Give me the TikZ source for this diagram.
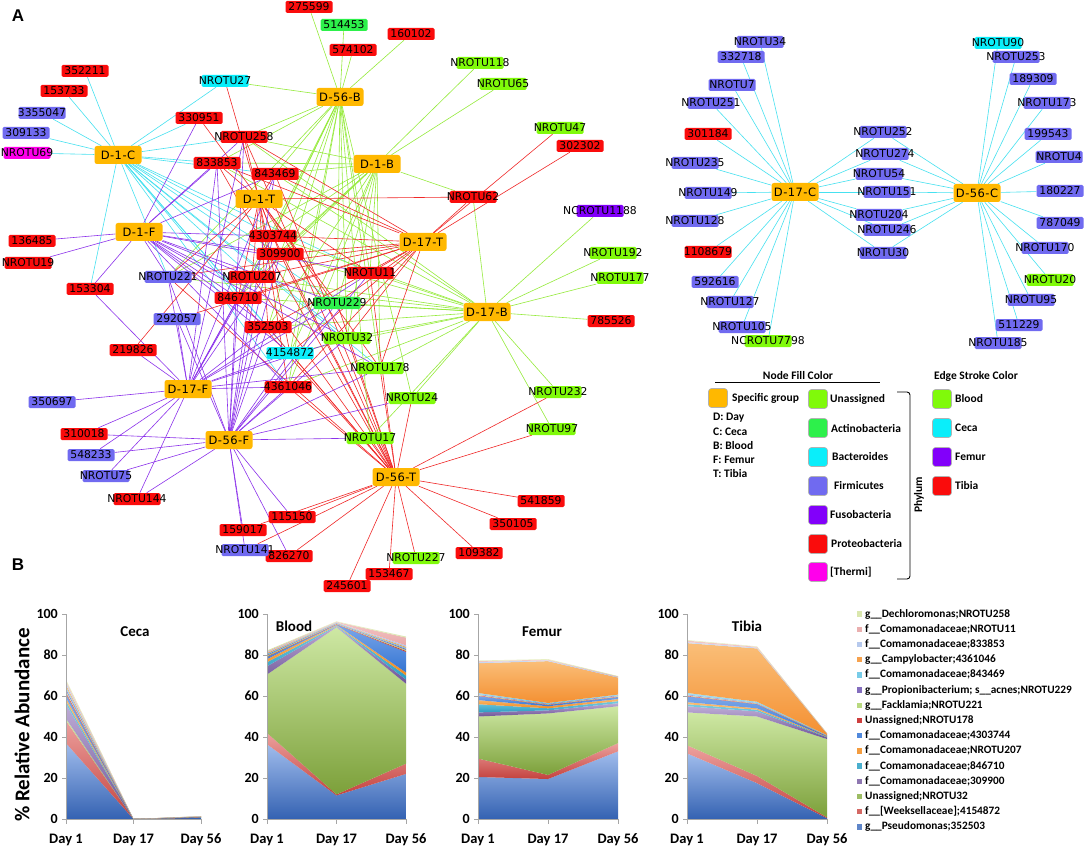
\documentclass[tikz,border=0pt]{standalone}
\usepackage{fontspec}
\setmainfont{Liberation Sans}
\newfontfamily\dvfont{DejaVu Sans}
\newfontfamily\dvhub{DejaVu Sans}[LetterSpace=4]
\newfontfamily\calfont{Carlito}
\pgfdeclarelayer{edges}
\pgfsetlayers{edges,main}
% node fills
\definecolor{hubc}{RGB}{255,184,0}
\definecolor{pr}{RGB}{250,12,12}
\definecolor{fi}{RGB}{112,106,240}
\definecolor{un}{RGB}{128,250,10}
\definecolor{ac}{RGB}{45,240,75}
\definecolor{ba}{RGB}{10,238,250}
\definecolor{th}{RGB}{255,0,235}
\definecolor{fu}{RGB}{130,0,250}
% edge strokes
\definecolor{cecaE}{RGB}{70,225,240}
\definecolor{bloodE}{RGB}{150,235,60}
\definecolor{femurE}{RGB}{140,50,235}
\definecolor{tibiaE}{RGB}{240,40,40}
% series colours (top / bottom of gradient)
\definecolor{sT1}{RGB}{160,188,236}\definecolor{sB1}{RGB}{52,98,178}
\definecolor{sT2}{RGB}{236,160,158}\definecolor{sB2}{RGB}{196,66,62}
\definecolor{sT3}{RGB}{206,232,164}\definecolor{sB3}{RGB}{124,160,58}
\definecolor{sT4}{RGB}{190,172,214}\definecolor{sB4}{RGB}{110,84,152}
\definecolor{sT5}{RGB}{120,204,224}\definecolor{sB5}{RGB}{44,156,194}
\definecolor{sT6}{RGB}{250,186,112}\definecolor{sB6}{RGB}{240,138,32}
\definecolor{sT7}{RGB}{124,168,234}\definecolor{sB7}{RGB}{52,116,210}
\definecolor{sT8}{RGB}{226,98,96}\definecolor{sB8}{RGB}{192,40,40}
\definecolor{sT9}{RGB}{216,236,176}\definecolor{sB9}{RGB}{164,204,96}
\definecolor{sT10}{RGB}{162,146,210}\definecolor{sB10}{RGB}{112,86,176}
\definecolor{sT11}{RGB}{162,222,242}\definecolor{sB11}{RGB}{92,192,226}
\definecolor{sT12}{RGB}{250,190,120}\definecolor{sB12}{RGB}{244,144,50}
\definecolor{sT13}{RGB}{202,218,244}\definecolor{sB13}{RGB}{168,190,232}
\definecolor{sT14}{RGB}{244,198,198}\definecolor{sB14}{RGB}{228,160,160}
\definecolor{sT15}{RGB}{232,240,196}\definecolor{sB15}{RGB}{208,224,160}
\tikzset{
 leafbox/.style={rectangle, rounded corners=1.5pt, inner sep=0pt, minimum height=12pt, font=\dvfont\fontsize{10.8}{12}\selectfont, text=black},
 hubbox/.style={rectangle, rounded corners=2.5pt, fill=hubc, inner sep=0pt, minimum width=47pt, minimum height=18pt, font=\dvhub\fontsize{11.5}{13}\selectfont},
 edge/.style={line width=0.6pt},
 lgsq/.style={rectangle, rounded corners=3pt, minimum size=19pt, inner sep=0pt, draw=black!30, line width=0.6pt},
 lgtxt/.style={font=\calfont\bfseries\fontsize{11.5}{13}\selectfont, inner sep=0pt},
 axisline/.style={draw=black!35, line width=0.9pt},
 ticklab/.style={font=\calfont\bfseries\fontsize{14}{16}\selectfont, inner sep=0pt},
 daylab/.style={font=\calfont\bfseries\fontsize{14.5}{16}\selectfont, inner sep=0pt},
 charttitle/.style={font=\calfont\bfseries\fontsize{15}{17}\selectfont, inner sep=0pt},
 blegend/.style={font=\calfont\bfseries\fontsize{11.3}{13}\selectfont, inner sep=0pt, anchor=west},
 panellab/.style={font=\bfseries\fontsize{17}{19}\selectfont, inner sep=0pt},
}
\newcommand\areachart[4]{%
 \foreach \i/\a/\b/\c [remember=\a as \pa (initially 0), remember=\b as \pb (initially 0), remember=\c as \pc (initially 0)] in {#4}{
  \path[top color=sT\i, bottom color=sB\i] (#1,{819-2.05*\pa}) -- ({#1+#2},{819-2.05*\pb}) -- ({#1+2*#2},{819-2.05*\pc}) -- ({#1+2*#2},{819-2.05*\c}) -- ({#1+#2},{819-2.05*\b}) -- (#1,{819-2.05*\a}) -- cycle;
 }
 \draw[axisline] (#1,614) -- (#1,819) -- ({#1+2*#2},819);
 \foreach \v in {0,20,40,60,80,100}{
  \draw[axisline] ({#1-4},{819-2.05*\v}) -- (#1,{819-2.05*\v});
  \node[ticklab, anchor=east] (#3y\v) at ({#1-8},{819-2.05*\v}) {\v};
 }
 \foreach \k in {0,1,2}{\draw[axisline] ({#1+\k*#2},819) -- ({#1+\k*#2},824);}
 \node[daylab] (#3d1) at (#1,840) {Day 1};
 \node[daylab] (#3d2) at ({#1+#2},840) {Day 17};
 \node[daylab] (#3d3) at ({#1+2*#2},840) {Day 56};
}
\def\corelist{NROTU258,NROTU11,n833853,n4361046,n843469,NROTU229,NROTU221,NROTU178,n4303744,NROTU207,n846710,n309900,NROTU32,n4154872,n352503}
\def\midlist{NROTU252,NROTU274,NROTU54,NROTU151,NROTU204,NROTU246,NROTU30}
\begin{document}
\begin{tikzpicture}[x=1pt,y=-1pt]
\begin{pgfonlayer}{edges}
\fill[white] (0,0) rectangle (1084,850);
\end{pgfonlayer}
\useasboundingbox (0,0) rectangle (1084,850);

\node[panellab] (labA) at (18,16) {A};
\node[panellab] (labB) at (18,565) {B};

% ---------- leaves, left network ----------
\foreach \nm/\x/\y/\c/\t in {
 n275599/309/7/pr/275599, n514453/344/25/ac/514453, n574102/353/50/pr/574102, n160102/411/34/pr/160102,
 NROTU118/480/63/un/NROTU118, NROTU65/503/84/un/NROTU65, NROTU47/560/128/un/NROTU47, n302302/580/146/pr/302302,
 NROTU62/473/197/pr/NROTU62, NCROTU1188/600/211/fu/NCROTU1188, NROTU192/613/253/un/NROTU192, NROTU177/620/278/un/NROTU177,
 NROTU11/370/273/pr/NROTU11, n785526/611/321/pr/785526, NROTU232/558/392/un/NROTU232, NROTU97/552/429/un/NROTU97,
 n541859/541/501/pr/541859, n350105/513/524/pr/350105, n109382/479/553/pr/109382, NROTU227/416/558/un/NROTU227,
 n153467/389/574/pr/153467, n245601/347/586/pr/245601, n826270/289/556/pr/826270, NROTU141/245/550/fi/NROTU141,
 n159017/243/530/pr/159017, n115150/292/517/pr/115150, NROTU144/137/499/pr/NROTU144, NROTU75/106/476/fi/NROTU75,
 n548233/91/455/fi/548233, n310018/84/434/pr/310018, n350697/52/402/fi/350697, n219826/133/350/pr/219826,
 n292057/177/319/fi/292057, n153304/90/289/pr/153304, n4361046/288/387/pr/4361046, n4154872/290/353/ba/4154872,
 n352503/268/327/pr/352503, n846710/238/298/pr/846710, NROTU221/168/277/fi/NROTU221, NROTU207/252/277/pr/NROTU207,
 n309900/280/254/pr/309900, n4303744/273/236/pr/4303744, n843469/275/174/pr/843469, n833853/217/163/pr/833853,
 NROTU258/244/137/pr/NROTU258, n330951/199/118/pr/330951, NROTU27/225/81/ba/NROTU27, n352211/85/71/pr/352211,
 n153733/64/91/pr/153733, n3355047/42/113/fi/3355047, n309133/26/133/fi/309133, NROTU69/27/153/th/NROTU69,
 n136485/32/241/pr/136485, NROTU19/28/263/pr/NROTU19, NROTU229/337/303/ac/NROTU229, NROTU32/347/338/un/NROTU32,
 NROTU178/380/368/un/NROTU178, NROTU24/412/398/un/NROTU24, NROTU17/370/438/un/NROTU17}{
 \node[leafbox, fill=\c] (\nm) at (\x,\y) {\hbox to 47pt{\hss\t\hss}};
}
% ---------- leaves, right network ----------
\foreach \nm/\x/\y/\c/\t in {
 NROTU34/760/42/fi/NROTU34, n332718/741/57/fi/332718, NROTU7/732/85/fi/NROTU7, NROTU251/711/103/fi/NROTU251,
 n301184/708/134/pr/301184, NROTU235/695/163/fi/NROTU235, NROTU149/708/193/fi/NROTU149, NROTU128/695/221/fi/NROTU128,
 n1108679/708/252/pr/1108679, n592616/715/282/fi/592616, NROTU127/730/302/fi/NROTU127, NROTU105/742/327/fi/NROTU105,
 NCROTU7798/768/341/un/NCROTU7798,
 NROTU252/883/132/fi/NROTU252, NROTU274/885/154/fi/NROTU274, NROTU54/879/174/fi/NROTU54, NROTU151/887/192/fi/NROTU151,
 NROTU204/879/215/fi/NROTU204, NROTU246/887/230/fi/NROTU246, NROTU30/883/253/fi/NROTU30,
 NROTU90/998/43/ba/NROTU90, NROTU253/1016/57/fi/NROTU253, n189309/1033/79/fi/189309, NROTU173/1047/103/fi/NROTU173,
 n199543/1048/134/fi/199543, NROTU4/1059/157/fi/NROTU4, n180227/1060/191/fi/180227, n787049/1060/223/fi/787049,
 NROTU170/1045/248/fi/NROTU170, NROTU20/1050/280/un/NROTU20, NROTU95/1031/300/fi/NROTU95, n511229/1019/325/fi/511229,
 NROTU185/998/343/fi/NROTU185}{
 \node[leafbox, fill=\c] (\nm) at (\x,\y) {\hbox to 47pt{\hss\t\hss}};
}
% ---------- hubs ----------
\foreach \nm/\x/\y/\t in {D1C/118/155/D-1-C, D1F/139/232/D-1-F, D1T/259/199/D-1-T, D56B/340/97/D-56-B,
 D1B/377/164/D-1-B, D17T/423/242/D-17-T, D17B/487/312/D-17-B, D17F/188/389/D-17-F, D56F/229/440/D-56-F,
 D56T/396/477/D-56-T, D17C/795/192/D-17-C, D56C/977/193/D-56-C}{
 \node[hubbox] (\nm) at (\x,\y) {\t};
}

% ---------- edges ----------
\begin{pgfonlayer}{edges}
\foreach \h/\col in {D1C/cecaE, D56B/bloodE, D1B/bloodE, D17B/bloodE, D1T/tibiaE, D17T/tibiaE, D56T/tibiaE, D1F/femurE, D17F/femurE, D56F/femurE}{
 \foreach \o in \corelist {\draw[edge, draw=\col] (\h) -- (\o);}
}
\foreach \o in {n352211,n153733,n3355047,n309133,NROTU69,NROTU27,n330951,n153304}{\draw[edge, draw=cecaE] (D1C) -- (\o);}
\foreach \o in {n275599,n514453,n574102,n160102,NROTU27,NROTU24,NROTU17}{\draw[edge, draw=bloodE] (D56B) -- (\o);}
\foreach \o in {NROTU118,NROTU65,NROTU62}{\draw[edge, draw=bloodE] (D1B) -- (\o);}
\foreach \o in {NROTU62,NCROTU1188,NROTU192,NROTU177,n785526,NROTU232,NROTU97,NROTU24,NROTU17}{\draw[edge, draw=bloodE] (D17B) -- (\o);}
\foreach \o in {NROTU27,n330951,NROTU62,n219826}{\draw[edge, draw=tibiaE] (D1T) -- (\o);}
\foreach \o in {NROTU47,n302302,NROTU62,n292057}{\draw[edge, draw=tibiaE] (D17T) -- (\o);}
\foreach \o in {NROTU232,NROTU97,n541859,n350105,n109382,NROTU227,n153467,n245601,n826270,n115150,n159017,NROTU141,NROTU17,NROTU24}{\draw[edge, draw=tibiaE] (D56T) -- (\o);}
\foreach \o in {n136485,NROTU19,n330951,n153304}{\draw[edge, draw=femurE] (D1F) -- (\o);}
\foreach \o in {n153304,n219826,n292057,n350697,n310018,n548233,NROTU75,NROTU144}{\draw[edge, draw=femurE] (D17F) -- (\o);}
\foreach \o in {n292057,n310018,n548233,NROTU75,NROTU144,n115150,n159017,NROTU141,n826270,NROTU17,NROTU24}{\draw[edge, draw=femurE] (D56F) -- (\o);}
% right network
\foreach \o in {NROTU34,n332718,NROTU7,NROTU251,n301184,NROTU235,NROTU149,NROTU128,n1108679,n592616,NROTU127,NROTU105,NCROTU7798}{\draw[edge, draw=cecaE] (D17C) -- (\o);}
\foreach \o in {NROTU90,NROTU253,n189309,NROTU173,n199543,NROTU4,n180227,n787049,NROTU170,NROTU20,NROTU95,n511229,NROTU185}{\draw[edge, draw=cecaE] (D56C) -- (\o);}
\foreach \o in \midlist {\draw[edge, draw=cecaE] (D17C) -- (\o); \draw[edge, draw=cecaE] (D56C) -- (\o);}
\end{pgfonlayer}

% ---------- legend A ----------
\node[lgtxt] (nfc) at (798,376) {Node Fill Color};
\draw[line width=0.8pt] (715,382) -- (880,382);
\node[lgtxt] (esc) at (976,376) {Edge Stroke Color};
\node[lgsq, fill=hubc] (lsq0) at (718,398) {};
\node[lgtxt, anchor=west] (lt0) at (732,398) {Specific group};
\foreach \nm/\y/\txt in {D/418/{D: Day}, C/432/{C: Ceca}, B/446/{B: Blood}, F/460/{F: Femur}, T/474/{T: Tibia}}{
 \node[lgtxt, anchor=west] (lk\nm) at (713,\y) {\txt};
}
\foreach \k/\y/\c/\dx/\txt in {1/399/un/0/Unassigned, 2/428/ac/1/Actinobacteria, 3/457/ba/2/Bacteroides, 4/486/fi/4/Firmicutes, 5/515/fu/0/Fusobacteria, 6/544/pr/1/Proteobacteria, 7/572/th/0/{[Thermi]}}{
 \node[lgsq, fill=\c] (ps\k) at (818,\y) {};
 \node[lgtxt, anchor=west] (pt\k) at ({830+\dx},\y) {\txt};
}
\draw[line width=0.9pt, rounded corners=3pt] (897,392) -- (910,392) -- (910,579) -- (897,579);
\node[lgtxt, rotate=90] (phy) at (919,495) {Phylum};
\foreach \k/\y/\c/\txt in {1/399/un/Blood, 2/428/ba/Ceca, 3/457/fu/Femur, 4/486/pr/Tibia}{
 \node[lgsq, fill=\c] (es\k) at (942,\y) {};
 \node[lgtxt, anchor=west] (et\k) at (955,\y) {\txt};
}

% ---------- panel B ----------
\node[font=\calfont\bfseries\fontsize{21}{24}\selectfont, rotate=90, inner sep=0pt] (yl) at (22,725) {\% Relative Abundance};
\areachart{66}{67.5}{C}{1/37/0/0.6, 2/48/0/0.7, 3/49/0/0.75, 4/56/0/0.85, 5/57.5/0/0.9, 6/59/0/0.95, 7/61/0/1.0, 8/61.8/0/1.05, 9/62.5/0/1.1, 10/63.5/0/1.15, 11/64.5/0/1.2, 12/65.5/0/1.25, 13/66.5/0/1.3, 14/67.3/0/1.35, 15/68/0/1.4}
\areachart{267}{69.5}{Bl}{1/36.5/11.5/22, 2/42/12/27, 3/70.5/93.5/66, 4/74.5/94/68, 5/76.5/94.3/70, 6/78/94.6/71.5, 7/79/94.9/81.5, 8/79.3/95.1/82, 9/79.8/95.3/82.5, 10/80.2/95.5/83, 11/80.6/95.7/83.5, 12/81/95.8/84, 13/81.4/96/84.7, 14/81.8/96.2/88.5, 15/82.2/96.4/89}
\areachart{478}{70}{F}{1/20.5/19.5/33, 2/29.5/21.5/37, 3/50/51.5/55, 4/52/53/56.5, 5/56/54/57.5, 6/58/55/58.5, 7/60/55.6/59.5, 8/60.3/55.8/59.7, 9/60.6/56/60, 10/60.9/56.2/60.3, 11/61.5/56.6/60.7, 12/76/77/69, 13/76.6/77.4/69.3, 14/77/77.7/69.5, 15/77.3/78/69.7}
\areachart{687}{70}{T}{1/32/17.5/0.4, 2/36/21/0.8, 3/52/50/39, 4/55/52.5/39.8, 5/56/53.3/40, 6/57/54/40.2, 7/59.8/56/40.4, 8/60.1/56.2/40.5, 9/60.4/56.4/40.6, 10/60.7/56.6/40.7, 11/61.5/57.2/40.9, 12/85.8/83.2/41.6, 13/86.3/83.6/41.7, 14/87/84/41.8, 15/87.3/84.2/41.9}
\node[charttitle] (tC) at (135,632) {Ceca};
\node[charttitle] (tB) at (294,626) {Blood};
\node[charttitle] (tF) at (542,632) {Femur};
\node[charttitle] (tT) at (747,626) {Tibia};

\foreach \i/\t [count=\k from 0] in {15/{g\_\_Dechloromonas;NROTU258}, 14/{f\_\_Comamonadaceae;NROTU11}, 13/{f\_\_Comamonadaceae;833853}, 12/{g\_\_Campylobacter;4361046}, 11/{f\_\_Comamonadaceae;843469}, 10/{g\_\_Propionibacterium; s\_\_acnes;NROTU229}, 9/{g\_\_Facklamia;NROTU221}, 8/{Unassigned;NROTU178}, 7/{f\_\_Comamonadaceae;4303744}, 6/{f\_\_Comamonadaceae;NROTU207}, 5/{f\_\_Comamonadaceae;846710}, 4/{f\_\_Comamonadaceae;309900}, 3/{Unassigned;NROTU32}, 2/{f\_\_[Weeksellaceae];4154872}, 1/{g\_\_Pseudomonas;352503}}{
 \fill[sB\i!60!sT\i] (857,{614+15.2*\k-2.7}) rectangle ++(5.4,5.4);
 \node[blegend] (lg\i) at (865,{614+15.2*\k}) {\t};
}
\end{tikzpicture}
\end{document}
